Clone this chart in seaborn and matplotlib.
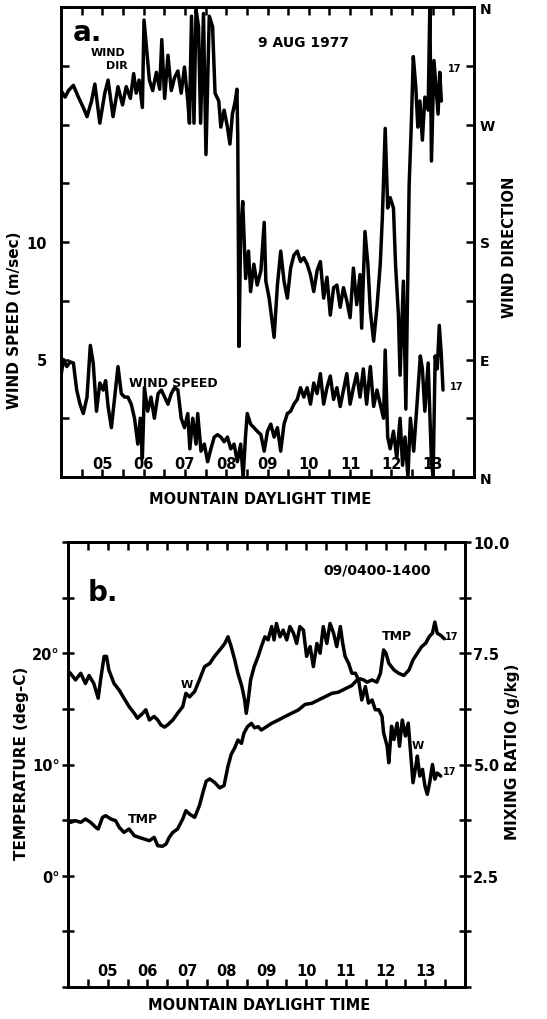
import seaborn as sns
import pandas as pd
import numpy as np
import matplotlib
matplotlib.use("Agg")
import matplotlib.pyplot as plt

# ---- panel a: wind direction (deg) and wind speed (m/s), station 17 ----
dir_t = [4.00, 4.10, 4.18, 4.30, 4.42, 4.54, 4.63, 4.74, 4.82, 4.94,
         5.06, 5.14, 5.26, 5.38, 5.49, 5.58, 5.68, 5.76, 5.82, 5.89,
         5.97, 6.01, 6.06, 6.14, 6.22, 6.31, 6.39, 6.44, 6.51, 6.59,
         6.67, 6.75, 6.83, 6.91, 6.99, 7.07, 7.11, 7.16, 7.22, 7.27,
         7.33, 7.38, 7.45, 7.51, 7.59, 7.67, 7.73, 7.82, 7.87, 7.95,
         8.03, 8.09, 8.15, 8.22, 8.26, 8.28, 8.31, 8.35, 8.40, 8.47,
         8.54, 8.59, 8.67, 8.75, 8.84, 8.92, 8.96, 9.04, 9.10, 9.16,
         9.24, 9.32, 9.40, 9.48, 9.56, 9.64, 9.72, 9.80, 9.88, 9.96,
         10.04, 10.12, 10.20, 10.28, 10.36, 10.44, 10.52, 10.60, 10.68, 10.76,
         10.84, 10.92, 11.00, 11.08, 11.16, 11.24, 11.28, 11.36, 11.43, 11.49,
         11.57, 11.65, 11.73, 11.78, 11.85, 11.91, 11.97, 12.05, 12.10, 12.17,
         12.21, 12.29, 12.35, 12.40, 12.43, 12.48, 12.53, 12.59, 12.64, 12.69,
         12.75, 12.81, 12.89, 12.93, 12.97, 13.03, 13.09, 13.13, 13.17, 13.21]
dir_deg = [296, 291, 296, 300, 291, 283, 276, 288, 301, 271,
           294, 304, 276, 299, 285, 299, 290, 309, 294, 304,
           283, 350, 332, 304, 296, 310, 297, 335, 290, 323,
           296, 306, 311, 294, 314, 288, 271, 353, 271, 358,
           345, 271, 355, 247, 353, 345, 294, 288, 268, 281,
           268, 255, 278, 288, 297, 260, 100, 188, 211, 152,
           173, 142, 163, 147, 158, 195, 150, 137, 122, 107,
           147, 173, 150, 137, 160, 170, 173, 165, 168, 163,
           155, 142, 158, 165, 137, 153, 124, 145, 147, 130,
           145, 135, 122, 160, 132, 155, 114, 188, 163, 127,
           104, 130, 163, 198, 267, 206, 214, 206, 163, 124,
           78, 150, 52, 163, 224, 268, 322, 299, 268, 288,
           258, 291, 281, 360, 242, 319, 294, 278, 310, 288]

spd_t = [4.00, 4.06, 4.14, 4.22, 4.30, 4.38, 4.46, 4.54, 4.63, 4.71,
         4.78, 4.86, 4.94, 5.02, 5.08, 5.14, 5.22, 5.30, 5.38, 5.46,
         5.54, 5.62, 5.70, 5.78, 5.86, 5.92, 5.97, 6.02, 6.10, 6.18,
         6.26, 6.35, 6.43, 6.51, 6.59, 6.67, 6.75, 6.83, 6.91, 6.99,
         7.07, 7.12, 7.19, 7.27, 7.31, 7.39, 7.47, 7.55, 7.63, 7.71,
         7.79, 7.87, 7.95, 8.03, 8.11, 8.19, 8.27, 8.35, 8.41, 8.47,
         8.51, 8.59, 8.67, 8.75, 8.84, 8.92, 9.00, 9.08, 9.16, 9.24,
         9.32, 9.40, 9.48, 9.56, 9.64, 9.72, 9.80, 9.88, 9.96, 10.04,
         10.12, 10.20, 10.28, 10.36, 10.44, 10.52, 10.60, 10.68, 10.76, 10.84,
         10.92, 11.00, 11.08, 11.16, 11.24, 11.32, 11.40, 11.49, 11.57, 11.65,
         11.73, 11.81, 11.85, 11.91, 11.97, 12.05, 12.13, 12.21, 12.27, 12.33,
         12.40, 12.46, 12.54, 12.62, 12.70, 12.75, 12.81, 12.89, 12.97, 13.01,
         13.06, 13.11, 13.16, 13.21, 13.25]
spd = [4.3, 5.0, 4.7, 4.9, 4.85, 3.7, 3.1, 2.7, 3.4, 5.6,
       4.85, 2.8, 4.0, 3.7, 4.1, 3.0, 2.1, 3.4, 4.7, 3.55,
       3.4, 3.4, 3.1, 2.5, 1.4, 2.5, 0.8, 3.8, 2.8, 3.4,
       2.5, 3.55, 3.7, 3.4, 3.1, 3.55, 3.8, 3.7, 2.5, 2.1,
       2.7, 1.2, 2.5, 1.4, 2.7, 1.1, 1.4, 0.65, 1.2, 1.7,
       1.8, 1.7, 1.5, 1.7, 1.2, 1.4, 0.65, 1.4, 0.0, 1.8,
       2.7, 2.25, 2.1, 1.95, 1.8, 1.1, 1.95, 2.25, 1.7, 2.1,
       1.1, 2.25, 2.7, 2.8, 3.1, 3.3, 3.8, 3.4, 3.8, 3.1,
       4.0, 3.55, 4.4, 3.1, 3.8, 4.3, 3.3, 3.8, 3.0, 3.7,
       4.4, 3.1, 3.8, 4.4, 3.4, 4.6, 3.1, 4.7, 3.0, 3.7,
       3.1, 2.5, 5.4, 1.7, 1.2, 1.95, 0.8, 2.5, 0.5, 1.7,
       0.0, 2.5, 1.1, 3.1, 5.15, 4.6, 2.8, 4.85, 0.65, 0.0,
       5.15, 4.6, 6.45, 5.15, 3.7]

# ---- panel b: mixing ratio W (g/kg) and temperature TMP (deg C) ----
w_t = [4.00, 4.06, 4.19, 4.32, 4.44, 4.53, 4.65, 4.76, 4.82, 4.91, 4.97,
       5.03, 5.16, 5.29, 5.41, 5.54, 5.67, 5.75, 5.88, 5.96, 6.05,
       6.17, 6.26, 6.34, 6.43, 6.51, 6.64, 6.76, 6.89, 6.97, 7.06,
       7.19, 7.31, 7.44, 7.57, 7.69, 7.82, 7.95, 8.03, 8.11, 8.20,
       8.28, 8.38, 8.45, 8.49, 8.54, 8.60, 8.69, 8.79, 8.87, 8.96,
       9.04, 9.13, 9.19, 9.25, 9.34, 9.42, 9.51, 9.59, 9.68, 9.76,
       9.84, 9.93, 10.01, 10.10, 10.18, 10.27, 10.35, 10.43, 10.52, 10.60,
       10.69, 10.77, 10.86, 10.92, 10.98, 11.07, 11.15, 11.24, 11.32, 11.40,
       11.49, 11.57, 11.66, 11.74, 11.83, 11.91, 11.95, 12.04, 12.08, 12.15,
       12.21, 12.29, 12.35, 12.42, 12.50, 12.57, 12.63, 12.69, 12.76, 12.80,
       12.86, 12.93, 12.99, 13.05, 13.11, 13.18, 13.24, 13.30, 13.39]
w = [7.1, 7.05, 6.9, 7.05, 6.82, 7.0, 6.82, 6.49, 6.9, 7.43, 7.43,
     7.12, 6.82, 6.67, 6.49, 6.3, 6.15, 6.04, 6.15, 6.23, 6.0,
     6.08, 6.0, 5.89, 5.84, 5.89, 6.0, 6.15, 6.3, 6.6, 6.52,
     6.64, 6.9, 7.2, 7.27, 7.43, 7.57, 7.72, 7.87, 7.65, 7.35,
     7.05, 6.75, 6.45, 6.15, 6.45, 6.9, 7.2, 7.43, 7.65, 7.87,
     7.8, 8.1, 7.8, 8.17, 7.87, 8.02, 7.8, 8.1, 7.95, 7.72,
     8.1, 8.02, 7.43, 7.65, 7.2, 7.72, 7.5, 8.1, 7.72, 8.17,
     7.95, 7.65, 8.1, 7.72, 7.43, 7.27, 7.05, 7.05, 6.9, 6.45,
     6.75, 6.38, 6.45, 6.23, 6.23, 6.08, 5.71, 5.41, 5.04, 5.86,
     5.56, 5.93, 5.41, 6.0, 5.64, 5.93, 5.26, 4.59, 4.96, 5.19,
     4.74, 4.89, 4.52, 4.33, 4.59, 5.0, 4.67, 4.81, 4.74]

tmp_t = [4.00, 4.06, 4.19, 4.32, 4.44, 4.57, 4.70, 4.76, 4.87, 4.95, 5.08,
         5.20, 5.29, 5.41, 5.54, 5.67, 5.79, 5.92, 6.05, 6.17, 6.26,
         6.38, 6.47, 6.55, 6.64, 6.76, 6.89, 6.97, 7.06, 7.19, 7.31,
         7.40, 7.48, 7.57, 7.69, 7.82, 7.93, 8.03, 8.11, 8.20, 8.28,
         8.37, 8.43, 8.52, 8.62, 8.70, 8.79, 8.87, 9.00, 9.13, 9.30,
         9.46, 9.63, 9.80, 9.97, 10.14, 10.31, 10.48, 10.65, 10.81, 10.98,
         11.15, 11.28, 11.36, 11.45, 11.53, 11.66, 11.78, 11.87, 11.95, 12.01,
         12.08, 12.21, 12.33, 12.46, 12.59, 12.69, 12.80, 12.91, 13.01, 13.10,
         13.18, 13.24, 13.30, 13.39, 13.48]
tmp = [4.8, 4.8, 4.95, 4.8, 5.1, 4.8, 4.35, 4.2, 5.25, 5.4, 5.1,
       4.95, 4.35, 3.9, 4.2, 3.6, 3.45, 3.3, 3.15, 3.45, 2.7,
       2.65, 2.85, 3.45, 3.9, 4.2, 5.1, 5.85, 5.55, 5.25, 6.3,
       7.5, 8.5, 8.7, 8.4, 7.9, 8.1, 9.85, 10.9, 11.5, 12.2,
       11.9, 12.8, 13.4, 13.7, 13.3, 13.4, 13.1, 13.4, 13.7, 14.0,
       14.3, 14.6, 14.9, 15.4, 15.5, 15.8, 16.1, 16.4, 16.5, 16.8,
       17.1, 17.6, 17.7, 17.6, 17.4, 17.6, 17.4, 18.2, 20.3, 20.0,
       19.1, 18.5, 18.2, 18.0, 18.5, 19.4, 20.0, 20.6, 20.9, 21.5,
       21.8, 22.8, 21.8, 21.6, 21.3]

sns.set_theme(style="white")
plt.rcParams['font.family'] = ['DejaVu Sans']
plt.rcParams['font.weight'] = 'bold'

fig = plt.figure(figsize=(5.47, 10.2), dpi=100)
LW = 2.5
TXT = dict(fontweight='bold', color='black')


def style_time_axis(ax, pad):
    ticks = np.arange(4.0, 14.01, 0.5)
    labels = [("%02d" % t) if (t % 1 == 0 and 5 <= t <= 13) else "" for t in ticks]
    ax.set_xlim(4, 14)
    ax.set_xticks(ticks)
    ax.set_xticklabels(labels, fontsize=10.5, fontweight='bold')
    ax.tick_params(axis='x', direction='in', length=6, width=1.8, top=True,
                   bottom=True, pad=pad, colors='black')
    ax.set_xlabel("")
    for s in ax.spines.values():
        s.set_linewidth(2.0)
        s.set_color('black')


# ----------------------- panel a -----------------------
axa = fig.add_axes([61 / 547, 1 - 478 / 1020, 413 / 547, 470 / 1020])
axa2 = axa.twinx()
sns.lineplot(x=spd_t, y=spd, ax=axa, color='black', lw=LW, sort=False, estimator=None)
sns.lineplot(x=dir_t, y=dir_deg, ax=axa2, color='black', lw=LW, sort=False, estimator=None)

axa.set_ylim(0, 20)
axa.set_yticks(np.arange(0, 20.01, 2.5))
axa.set_yticklabels(["" if v not in (5, 10) else "%d" % v for v in np.arange(0, 20.01, 2.5)],
                    fontsize=10.5, fontweight='bold')
axa.tick_params(axis='y', direction='in', length=6, width=1.8, pad=10, colors='black')
axa2.set_ylim(0, 360)
axa2.set_yticks(np.arange(0, 361, 45))
axa2.set_yticklabels(["N", "", "E", "", "S", "", "W", "", "N"], fontsize=10, fontweight='bold')
axa2.tick_params(axis='y', direction='in', length=6, width=1.8, pad=4, colors='black')
axa.set_ylabel("")
axa2.set_ylabel("")
style_time_axis(axa, -15)
for s in axa2.spines.values():
    s.set_linewidth(2.0)
    s.set_color('black')

axa.text(0.065, 0.947, "a.", transform=axa.transAxes, fontsize=20, ha='center', va='center', **TXT)
axa.text(0.114, 0.905, "WIND", transform=axa.transAxes, fontsize=8, ha='center', va='center', **TXT)
axa.text(0.136, 0.877, "DIR", transform=axa.transAxes, fontsize=8, ha='center', va='center', **TXT)
axa.text(0.586, 0.926, "9 AUG 1977", transform=axa.transAxes, fontsize=10, ha='center', va='center', **TXT)
axa.text(0.271, 0.202, "WIND SPEED", transform=axa.transAxes, fontsize=9, ha='center', va='center', **TXT)
axa.text(0.954, 0.870, "17", transform=axa.transAxes, fontsize=7, ha='center', va='center', **TXT)
axa.text(0.959, 0.194, "17", transform=axa.transAxes, fontsize=7, ha='center', va='center', **TXT)

fig.text(15 / 547, 1 - 320 / 1020, "WIND SPEED (m/sec)", rotation=90, fontsize=11,
         ha='center', va='center', **TXT)
fig.text(510 / 547, 1 - 247 / 1020, "WIND DIRECTION", rotation=90, fontsize=10.5,
         ha='center', va='center', **TXT)
fig.text(260 / 547, 1 - 499 / 1020, "MOUNTAIN DAYLIGHT TIME", fontsize=10.5,
         ha='center', va='center', **TXT)

# ----------------------- panel b -----------------------
axb = fig.add_axes([68 / 547, 1 - 988 / 1020, 397 / 547, 445 / 1020])
axb2 = axb.twinx()
sns.lineplot(x=tmp_t, y=tmp, ax=axb, color='black', lw=LW, sort=False, estimator=None)
sns.lineplot(x=w_t, y=w, ax=axb2, color='black', lw=LW, sort=False, estimator=None)

axb.set_ylim(-10, 30)
axb.set_yticks(np.arange(-10, 30.01, 5))
axb.set_yticklabels([{0: "0°", 10: "10°", 20: "20°"}.get(int(v), "") for v in np.arange(-10, 30.01, 5)],
                    fontsize=10.5, fontweight='bold')
axb.tick_params(axis='y', direction='inout', length=8, width=1.8, pad=2, colors='black')
axb2.set_ylim(0, 10)
axb2.set_yticks(np.arange(0, 10.01, 1.25))
axb2.set_yticklabels([{2.5: "2.5", 5.0: "5.0", 7.5: "7.5", 10.0: "10.0"}.get(float(v), "")
                      for v in np.arange(0, 10.01, 1.25)], fontsize=10.5, fontweight='bold')
axb2.tick_params(axis='y', direction='inout', length=8, width=1.8, pad=2, colors='black')
axb.set_ylabel("")
axb2.set_ylabel("")
style_time_axis(axb, -17)
for s in axb2.spines.values():
    s.set_linewidth(2.0)
    s.set_color('black')

axb.text(0.088, 0.888, "b.", transform=axb.transAxes, fontsize=20, ha='center', va='center', **TXT)
axb.text(0.778, 0.939, "09/0400-1400", transform=axb.transAxes, fontsize=10, ha='center', va='center', **TXT)
axb.text(0.300, 0.681, "W", transform=axb.transAxes, fontsize=8, ha='center', va='center', **TXT)
axb.text(0.829, 0.789, "TMP", transform=axb.transAxes, fontsize=9, ha='center', va='center', **TXT)
axb.text(0.967, 0.789, "17", transform=axb.transAxes, fontsize=7, ha='center', va='center', **TXT)
axb.text(0.882, 0.544, "W", transform=axb.transAxes, fontsize=8, ha='center', va='center', **TXT)
axb.text(0.962, 0.485, "17", transform=axb.transAxes, fontsize=7, ha='center', va='center', **TXT)
axb.text(0.189, 0.378, "TMP", transform=axb.transAxes, fontsize=9, ha='center', va='center', **TXT)

fig.text(22 / 547, 1 - 763 / 1020, "TEMPERATURE (deg-C)", rotation=90, fontsize=11,
         ha='center', va='center', **TXT)
fig.text(512 / 547, 1 - 752 / 1020, "MIXING RATIO (g/kg)", rotation=90, fontsize=11,
         ha='center', va='center', **TXT)
fig.text(259 / 547, 1 - 1006 / 1020, "MOUNTAIN DAYLIGHT TIME", fontsize=10.5,
         ha='center', va='center', **TXT)

fig.savefig("out.png", dpi=100, facecolor='white')
